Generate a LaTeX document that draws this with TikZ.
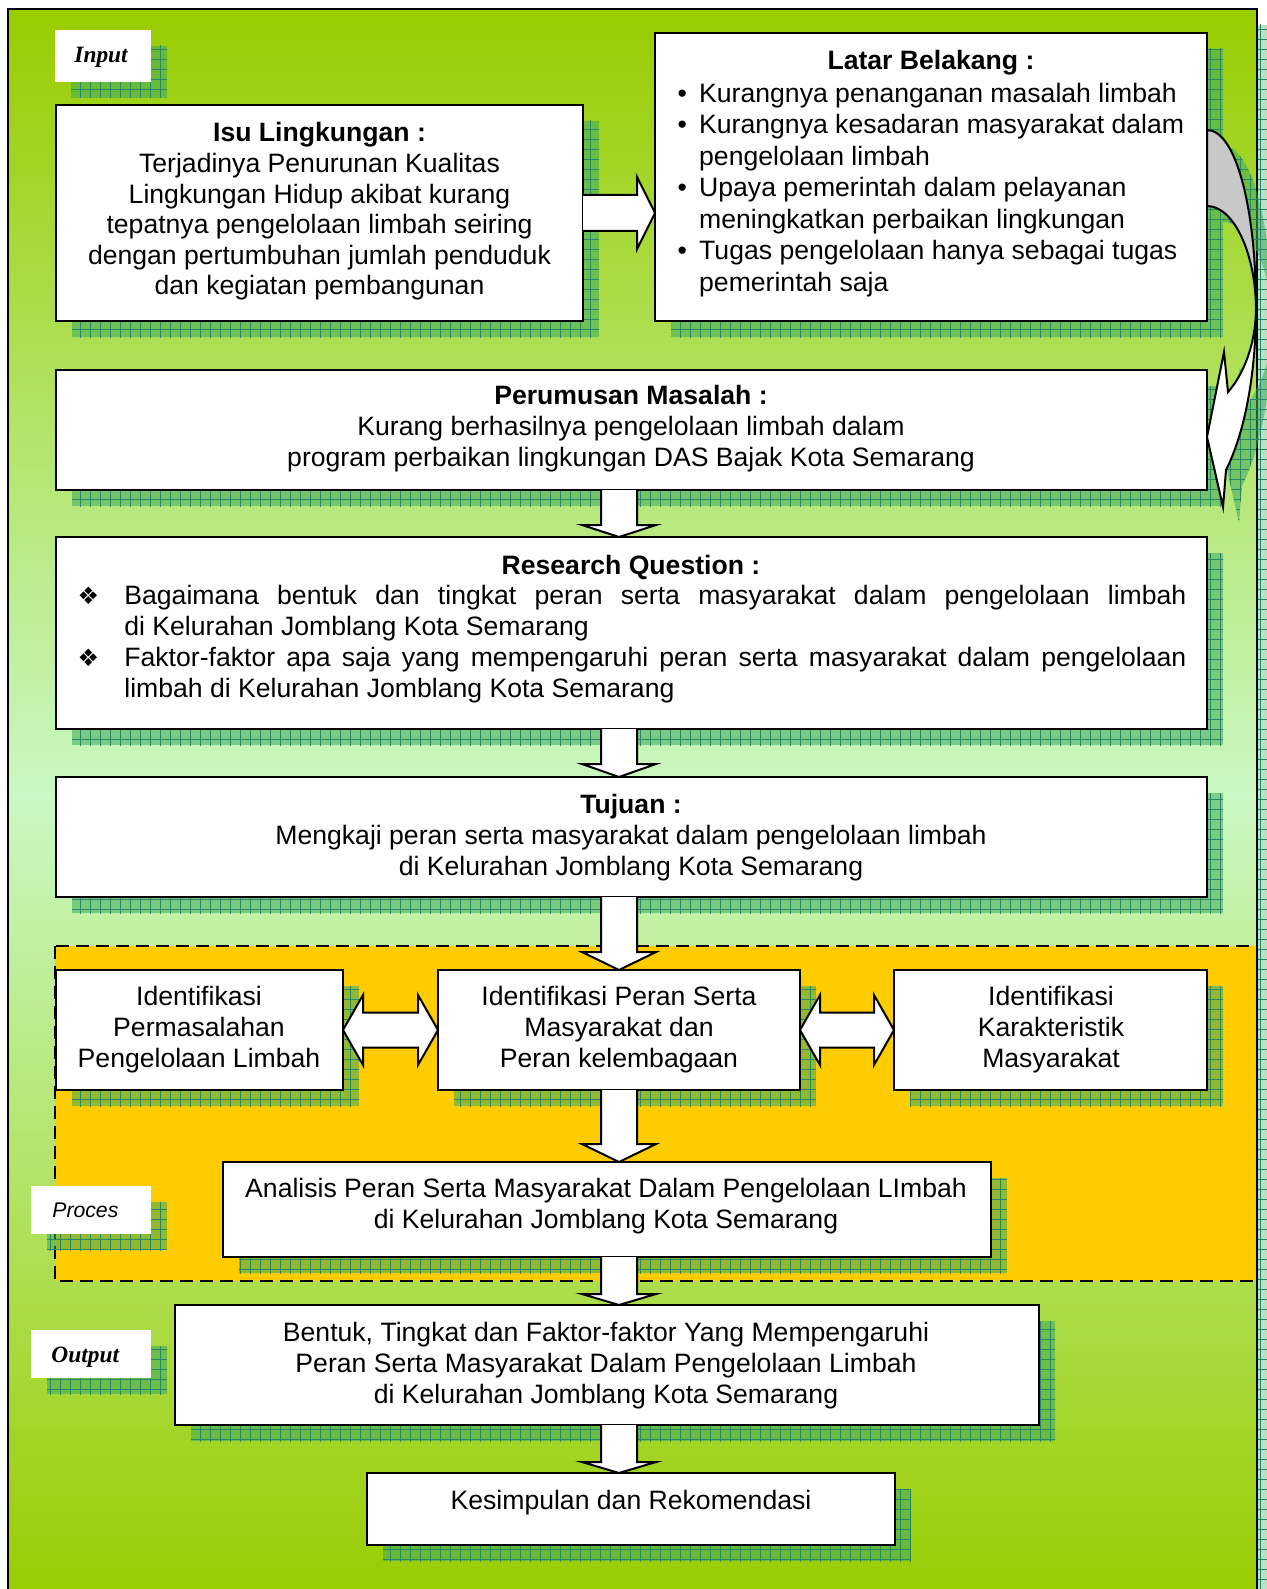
\documentclass[tikz,border=0pt]{standalone}
\usepackage{fontspec}
\setmainfont{Liberation Sans}
\newfontfamily\timesf{Liberation Serif}
\newfontfamily\dingf{DejaVu Sans}
\usetikzlibrary{calc,patterns.meta}
\definecolor{bgtop}{RGB}{153,204,0}
\definecolor{bgmid}{RGB}{202,248,196}
\definecolor{procyel}{RGB}{255,204,0}
\definecolor{shgreen}{RGB}{60,170,90}
\definecolor{shline}{RGB}{40,135,105}
\definecolor{arrgray}{RGB}{200,200,200}
\setlength{\parindent}{0pt}
\pgfdeclarelayer{bglayer}
\pgfdeclarelayer{shadowlayer}
\pgfsetlayers{bglayer,shadowlayer,main}
\tikzdeclarepattern{
  name=shgrid,
  type=uncolored,
  bounding box={(-0.2pt,-0.2pt) and (5.2pt,5.2pt)},
  tile size={(5pt,5pt)},
  code={\draw[line width=0.3pt] (0pt,0pt) -- (5pt,0pt) (0pt,0pt) -- (0pt,5pt);}
}
\newcommand{\boxshadow}[1]{%
  \begin{pgfonlayer}{shadowlayer}
    \fill[shad] ($(#1.north west)+(16,16)$) rectangle ($(#1.south east)+(16,16)$);
  \end{pgfonlayer}}
\newcommand{\dnarrow}[3]{%
  \draw[blk] ($(ax |- #1.south)+(-18,0)$) -- ($(ax |- #2.north)+(-18,-#3)$)
    -- ($(ax |- #2.north)+(-37,-#3)$) -- (ax |- #2.north)
    -- ($(ax |- #2.north)+(37,-#3)$) -- ($(ax |- #2.north)+(18,-#3)$)
    -- ($(ax |- #1.south)+(18,0)$);}
\newcommand{\dblarrow}[2]{%
  \draw[blk] (#1.east) -- ($(#1.east)+(20,-35)$) -- ($(#1.east)+(20,-17.5)$)
    -- ($(#2.west)+(-20,-17.5)$) -- ($(#2.west)+(-20,-35)$) -- (#2.west)
    -- ($(#2.west)+(-20,35)$) -- ($(#2.west)+(-20,17.5)$)
    -- ($(#1.east)+(20,17.5)$) -- ($(#1.east)+(20,35)$) -- cycle;}
\newcommand{\curvback}{(1207,130) .. controls (1236,130) and (1256,209) .. (1256,307) .. controls (1255,251) and (1233,206) .. (1207,206) -- cycle}
\newcommand{\curvfront}{(1256,307) .. controls (1256,345) and (1243,375) .. (1228,392) -- (1224,352) -- (1207,437) -- (1223,507) -- (1226,470) .. controls (1246,430) and (1256,370) .. (1256,307) -- cycle}
\newcommand{\dia}{\llap{\makebox[36pt][c]{\dingf\fontsize{12}{14}\selectfont ❖}}}
\begin{document}
\begin{tikzpicture}[x=0.5pt,y=-0.5pt,
  box/.style={draw=black, line width=1pt, fill=white, inner sep=0pt, outer sep=0pt, anchor=north west},
  shad/.style={fill=shgreen, fill opacity=0.55, postaction={pattern=shgrid, pattern color=shline, fill opacity=0.3}},
  lbl/.style={fill=white, inner sep=0pt, outer sep=0pt, anchor=north west},
  txt/.style={inner sep=0pt, align=center, font=\fontsize{13.3}{15.5}\selectfont},
  blk/.style={draw=black, fill=white, line width=1pt, line join=miter},
  crv/.style={draw=black, line width=1pt, line join=miter}
]
\useasboundingbox (0,0) rectangle (1266,1589);

% ---------- background ----------
\begin{pgfonlayer}{bglayer}
  \fill[shad, fill opacity=0.35] (24,25) rectangle (1273,1610);
  \shade[top color=bgtop, bottom color=bgmid] (8,9) rectangle (1257,795);
  \shade[top color=bgmid, bottom color=bgtop] (8,795) rectangle (1257,1600);
  \fill[procyel] (55,946) rectangle (1257,1281);
  \draw[line width=1pt, dash pattern=on 6.5pt off 3.5pt] (55,946) rectangle (1257,1281);
  \draw[line width=1pt] (8,9) rectangle (1257,1600);
\end{pgfonlayer}

% ---------- labels ----------
\node[lbl, minimum width=48pt, minimum height=26pt] (inputlbl) at (55,30) {};
\node[lbl, minimum width=60pt, minimum height=24pt] (proclbl) at (31,1186) {};
\node[lbl, minimum width=60pt, minimum height=24pt] (outlbl) at (31,1330) {};
\node[inner sep=0pt, anchor=west, font=\timesf\bfseries\itshape\fontsize{11.7}{14}\selectfont] (inputtxt) at (74,57) {Input};
\node[inner sep=0pt, anchor=west, font=\itshape\fontsize{10.6}{13}\selectfont] (proctxt) at (52,1210) {Proces};
\node[inner sep=0pt, anchor=west, font=\timesf\bfseries\itshape\fontsize{11.7}{14}\selectfont] (outtxt) at (51,1357) {Output};
\boxshadow{inputlbl}
\boxshadow{proclbl}
\boxshadow{outlbl}

% ---------- boxes ----------
\node[box, minimum width=263.5pt, minimum height=108pt] (isu) at (56,105) {};
\node[box, minimum width=276pt, minimum height=144pt] (latar) at (655,33) {};
\node[box, minimum width=575.5pt, minimum height=60pt] (perum) at (56,370) {};
\node[box, minimum width=575.5pt, minimum height=96pt] (resq) at (56,537) {};
\node[box, minimum width=575.5pt, minimum height=60pt] (tujuan) at (56,777) {};
\node[box, minimum width=143.5pt, minimum height=60pt] (idl) at (56,970) {};
\node[box, minimum width=181pt, minimum height=60pt] (idm) at (438,970) {};
\node[box, minimum width=156.5pt, minimum height=60pt] (idr) at (894,970) {};
\node[box, minimum width=384pt, minimum height=47.5pt] (anal) at (223,1162) {};
\node[box, minimum width=432pt, minimum height=60pt] (bentuk) at (175,1305) {};
\node[box, minimum width=264pt, minimum height=36pt] (kesim) at (367,1473) {};
\foreach \b in {isu,latar,perum,resq,tujuan,idl,idm,idr,anal,bentuk,kesim}{\boxshadow{\b}}

% curved arrow shadow
\begin{pgfonlayer}{shadowlayer}
  \begin{scope}[shift={(16,16)}]
    \fill[shad] \curvback;
    \fill[shad] \curvfront;
  \end{scope}
\end{pgfonlayer}

% ---------- texts ----------
\node[txt, font=\fontsize{13.3}{15.3}\selectfont] (isutxt) at (319.5,211.5)
  {\textbf{Isu Lingkungan :}\\Terjadinya Penurunan Kualitas\\Lingkungan Hidup akibat kurang\\tepatnya pengelolaan limbah seiring\\dengan pertumbuhan jumlah penduduk\\dan kegiatan pembangunan};
\node[txt] (lbtitle) at (931,63) {\textbf{Latar Belakang :}};
\node[inner sep=0pt, anchor=west, font=\fontsize{13.3}{15.75}\selectfont] (lblist) at (677.3,190.5)
  {\begin{tabular}{@{}p{10.75pt}@{}l@{}}
   \textbullet & Kurangnya penanganan masalah limbah\\
   \textbullet & Kurangnya kesadaran masyarakat dalam\\
   & pengelolaan limbah\\
   \textbullet & Upaya pemerintah dalam pelayanan\\
   & meningkatkan perbaikan lingkungan\\
   \textbullet & Tugas pengelolaan hanya sebagai tugas\\
   & pemerintah saja
   \end{tabular}};
\node[txt] (perumtxt) at (631,429)
  {\textbf{Perumusan Masalah :}\\Kurang berhasilnya pengelolaan limbah dalam\\program perbaikan lingkungan DAS Bajak Kota Semarang};
\node[txt] (resqtitle) at (631,567) {\textbf{Research Question :}};
\node[inner sep=0pt, anchor=west, align=left, font=\fontsize{13.3}{15.4}\selectfont] (resqtxt) at (124,644)
  {\hbox to 531pt{\dia Bagaimana bentuk dan tingkat peran serta masyarakat dalam pengelolaan limbah}\\
   di Kelurahan Jomblang Kota Semarang\\
   \hbox to 531pt{\dia Faktor-faktor apa saja yang mempengaruhi peran serta masyarakat dalam pengelolaan}\\
   limbah di Kelurahan Jomblang Kota Semarang};
\node[txt] (tujuantxt) at (631,838)
  {\textbf{Tujuan :}\\Mengkaji peran serta masyarakat dalam pengelolaan limbah\\di Kelurahan Jomblang Kota Semarang};
\node[txt] (idltxt) at (199,1030) {Identifikasi\\Permasalahan\\Pengelolaan Limbah};
\node[txt] (idmtxt) at (619,1030) {Identifikasi Peran Serta\\Masyarakat dan\\Peran kelembagaan};
\node[txt] (idrtxt) at (1051,1030) {Identifikasi\\Karakteristik\\Masyarakat};
\node[txt] (analtxt) at (606,1206.5) {Analisis Peran Serta Masyarakat Dalam Pengelolaan LImbah\\di Kelurahan Jomblang Kota Semarang};
\node[txt] (bentuktxt) at (606,1366) {Bentuk, Tingkat dan Faktor-faktor Yang Mempengaruhi\\Peran Serta Masyarakat Dalam Pengelolaan Limbah\\di Kelurahan Jomblang Kota Semarang};
\node[txt] (kesimtxt) at (631,1503) {Kesimpulan dan Rekomendasi};

% ---------- connectors ----------
\coordinate (ax) at (619,0);
\draw[blk] ($(isu.east)+(0,-18)$) -- ($(latar.west |- isu.east)+(-18,-18)$)
  -- ($(latar.west |- isu.east)+(-18,-36)$) -- (latar.west |- isu.east)
  -- ($(latar.west |- isu.east)+(-18,36)$) -- ($(latar.west |- isu.east)+(-18,18)$)
  -- ($(isu.east)+(0,18)$);
\dnarrow{perum}{resq}{12}
\dnarrow{resq}{tujuan}{13}
\dnarrow{tujuan}{idm}{18}
\dnarrow{idm}{anal}{18}
\dnarrow{anal}{bentuk}{11}
\dnarrow{bentuk}{kesim}{11}
\dblarrow{idl}{idm}
\dblarrow{idm}{idr}

% curved arrow from Latar Belakang to Perumusan Masalah
\draw[crv, fill=arrgray] \curvback;
\draw[crv, fill=white] \curvfront;
\end{tikzpicture}
\end{document}
